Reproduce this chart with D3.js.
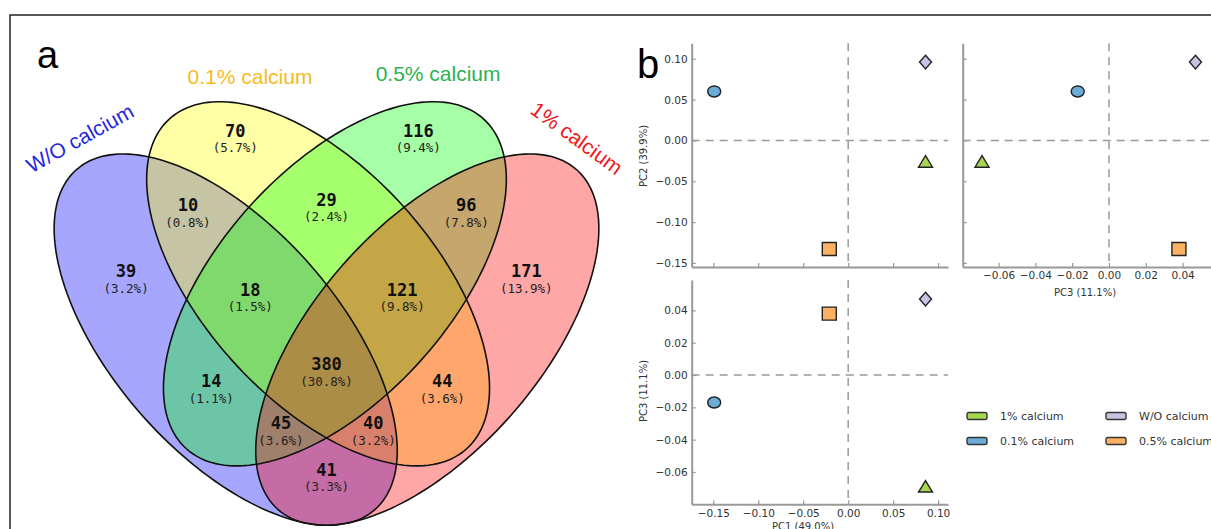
<!DOCTYPE html>
<html>
<head>
<meta charset="utf-8">
<script src="https://cdn.jsdelivr.net/npm/d3@7"></script>
<style>
  body { margin: 0; background: #fff; }
  svg { display: block; }
</style>
</head>
<body>
<svg id="fig" width="1211" height="529"></svg>
<script>
// panel a: venn of detected features
const setNames = ["W/O calcium", "0.1% calcium", "0.5% calcium", "1% calcium"];
const setFills = ["#0000ff", "#ffff00", "#00ff00", "#ff0000"];
const setLabelColors = ["#2626dc", "#f7bb22", "#2ab352", "#ef1820"];
const regionKeys = ["1000", "0100", "0010", "0001", "1100", "0110", "0011", "1110", "0111", "1111", "1010", "0101", "1011", "1101", "1001"];
const regionCounts = [39, 70, 116, 171, 10, 29, 96, 18, 121, 380, 14, 44, 45, 40, 41];

// panel b: PCA scores
const groups = ["1% calcium", "W/O calcium", "0.1% calcium", "0.5% calcium"];
const groupFills = ["#a7d650", "#cbc1e4", "#6badd8", "#fdb263"];
const groupShapes = ["triangle", "diamond", "circle", "square"];
const pc1 = [0.086, 0.086, -0.149, -0.021];
const pc2 = [-0.026, 0.096, 0.060, -0.133];
const pc3 = [-0.069, 0.047, -0.017, 0.038];
const pc1Ticks = [-0.15, -0.10, -0.05, 0.00, 0.05, 0.10];
const pc2Ticks = [-0.15, -0.10, -0.05, 0.00, 0.05, 0.10];
const pc3Ticks = [-0.06, -0.04, -0.02, 0.00, 0.02, 0.04];

const svg = d3.select("#fig");

// frame
svg.append("path")
    .attr("d", "M10,529V15H1211")
    .attr("fill", "none")
    .attr("stroke", "#222")
    .attr("stroke-width", 1.5);

// ---------- venn ----------
const xV = d3.scaleLinear().domain([0, 1]).range([26.5, 626.5]);
const yV = d3.scaleLinear().domain([0, 1]).range([600, 0]);

// ellipse layout in venn units (rotation in degrees, y up)
const ellipses = [
    {cx: 0.332, cy: 0.434, a: 0.377, b: 0.188, rot: 131.25},
    {cx: 0.486, cy: 0.527, a: 0.370, b: 0.192, rot: 132},
    {cx: 0.514, cy: 0.527, a: 0.370, b: 0.192, rot: 48},
    {cx: 0.668, cy: 0.434, a: 0.377, b: 0.188, rot: 48.75},
];
const anchors = {
    "1000": [0.166, 0.548], "0100": [0.348, 0.782], "0010": [0.653, 0.782], "0001": [0.833, 0.548],
    "1100": [0.269, 0.658], "0110": [0.500, 0.667], "0011": [0.733, 0.658],
    "1110": [0.373, 0.517], "0111": [0.626, 0.517], "1111": [0.500, 0.393],
    "1010": [0.308, 0.365], "0101": [0.693, 0.365],
    "1011": [0.424, 0.295], "1101": [0.578, 0.295], "1001": [0.500, 0.217],
};
const catPos = [
    {x: 0.089, y: 0.770, rot: -29},
    {x: 0.3725, y: 0.872, rot: 0},
    {x: 0.686, y: 0.878, rot: 0},
    {x: 0.9175, y: 0.770, rot: 36},
];

const ellipsePath = e => {
    const r = e.rot * Math.PI / 180;
    const pts = d3.range(0, 360, 2).map(deg => {
        const t = deg * Math.PI / 180;
        return [
            e.cx + e.a * Math.cos(t) * Math.cos(r) - e.b * Math.sin(t) * Math.sin(r),
            e.cy + e.a * Math.cos(t) * Math.sin(r) + e.b * Math.sin(t) * Math.cos(r)
        ];
    });
    return d3.line().x(p => xV(p[0])).y(p => yV(p[1])).curve(d3.curveLinearClosed)(pts);
};

const venn = svg.append("g");
venn.selectAll("path.fill")
    .data(ellipses)
    .join("path")
    .attr("class", "fill")
    .attr("d", ellipsePath)
    .attr("fill", (d, i) => setFills[i])
    .attr("fill-opacity", 0.35);
venn.selectAll("path.edge")
    .data(ellipses)
    .join("path")
    .attr("class", "edge")
    .attr("d", ellipsePath)
    .attr("fill", "none")
    .attr("stroke", "#111")
    .attr("stroke-width", 1.6);

const total = d3.sum(regionCounts);
const reg = venn.selectAll("g.region")
    .data(regionKeys.map((k, i) => ({key: k, n: regionCounts[i]})))
    .join("g")
    .attr("class", "region")
    .attr("transform", d => `translate(${xV(anchors[d.key][0])},${yV(anchors[d.key][1])})`)
    .attr("text-anchor", "middle")
    .style("font-family", "'DejaVu Sans Mono', monospace");
reg.append("text")
    .attr("dy", "0.36em")
    .style("font-size", "17px")
    .style("font-weight", "bold")
    .attr("fill", "#111")
    .text(d => d.n);
reg.append("text")
    .attr("y", 17)
    .attr("dy", "0.36em")
    .style("font-size", "12.5px")
    .attr("fill", "#222")
    .text(d => `(${(100 * d.n / total).toFixed(1)}%)`);

venn.selectAll("text.cat")
    .data(catPos)
    .join("text")
    .attr("class", "cat")
    .attr("transform", d => `translate(${xV(d.x)},${yV(d.y)}) rotate(${d.rot})`)
    .attr("text-anchor", "middle")
    .attr("dy", "0.36em")
    .style("font-family", "'Liberation Sans', Arial, sans-serif")
    .style("font-size", "21px")
    .attr("fill", (d, i) => setLabelColors[i])
    .text((d, i) => setNames[i]);

svg.append("text")
    .attr("x", 37).attr("y", 68)
    .style("font-family", "'Liberation Sans', Arial, sans-serif")
    .style("font-size", "38px")
    .text("a");

// ---------- pca ----------
const xPC1 = d3.scaleLinear().domain([-0.174, 0.111]).range([691.7, 948]);
const yPC2 = d3.scaleLinear().domain([-0.155, 0.119]).range([267, 43.3]);
const xPC3 = d3.scaleLinear().domain([-0.0795, 0.06]).range([962.7, 1219.4]);
const yPC3 = d3.scaleLinear().domain([-0.08, 0.0588]).range([504.3, 280]);

const fmt = d3.format(".2f");
const tickFont = "'DejaVu Sans', sans-serif";

function marker(shape) {
    if (shape === "circle") return "M-6.5,0A6.5,5.5 0 1,0 6.5,0A6.5,5.5 0 1,0 -6.5,0Z";
    if (shape === "diamond") return "M0,-6.8L6,0L0,6.8L-6,0Z";
    if (shape === "triangle") return "M0,-6L7,5.5L-7,5.5Z";
    return "M-7,-6.5H7V6.5H-7Z";
}

function scatter(x, y, xs, ys, xTicks, yTicks, xLabels, yLabels) {
    const g = svg.append("g");
    const [x0, x1] = x.range();
    const [y0, y1] = y.range();

    g.append("line")
        .attr("x1", x(0)).attr("x2", x(0)).attr("y1", y1).attr("y2", y0)
        .attr("stroke", "#999").attr("stroke-width", 1.5).attr("stroke-dasharray", "8,6");
    g.append("line")
        .attr("x1", x0).attr("x2", x1).attr("y1", y(0)).attr("y2", y(0))
        .attr("stroke", "#999").attr("stroke-width", 1.5).attr("stroke-dasharray", "8,6");

    const ax = g.append("g")
        .attr("transform", `translate(0,${y0})`)
        .call(d3.axisBottom(x).tickValues(xTicks).tickSize(-4).tickSizeOuter(0).tickPadding(5)
            .tickFormat(xLabels ? fmt : ""));
    const ay = g.append("g")
        .attr("transform", `translate(${x0},0)`)
        .call(d3.axisLeft(y).tickValues(yTicks).tickSize(-4).tickSizeOuter(0).tickPadding(4)
            .tickFormat(yLabels ? fmt : ""));
    [ax, ay].forEach(a => {
        a.select(".domain").attr("stroke", "#999").attr("stroke-width", 2);
        a.selectAll(".tick line").attr("stroke", "#999").attr("stroke-width", 1.2);
        a.selectAll(".tick text").attr("fill", "#333")
            .style("font-family", tickFont).style("font-size", "10.5px");
    });

    g.selectAll("path.pt")
        .data(groups.map((name, i) => ({i, vx: xs[i], vy: ys[i]})))
        .join("path")
        .attr("class", "pt")
        .attr("transform", d => `translate(${x(d.vx)},${y(d.vy)})`)
        .attr("d", d => marker(groupShapes[d.i]))
        .attr("fill", d => groupFills[d.i])
        .attr("stroke", "#222")
        .attr("stroke-width", 1.4);
    return g;
}

scatter(xPC1, yPC2, pc1, pc2, pc1Ticks, pc2Ticks, false, true);
scatter(xPC3, yPC2, pc3, pc2, pc3Ticks, pc2Ticks, true, false);
scatter(xPC1, yPC3, pc1, pc3, pc1Ticks, pc3Ticks, true, true);

const axisLabel = (x, y, rot, txt) => svg.append("text")
    .attr("transform", `translate(${x},${y}) rotate(${rot})`)
    .attr("text-anchor", "middle")
    .attr("dy", "0.35em")
    .style("font-family", tickFont).style("font-size", "10px")
    .attr("fill", "#333")
    .text(txt);
axisLabel(643, 156, -90, "PC2 (39.9%)");
axisLabel(643, 391, -90, "PC3 (11.1%)");
axisLabel(1085, 292, 0, "PC3 (11.1%)");
axisLabel(803, 526, 0, "PC1 (49.0%)");

// legend
const leg = svg.append("g")
    .selectAll("g")
    .data(groups)
    .join("g")
    .attr("transform", (d, i) => `translate(${967 + (i % 2) * 139},${416 + Math.floor(i / 2) * 25})`);
leg.append("rect")
    .attr("x", 0).attr("y", -3.5).attr("width", 20).attr("height", 7).attr("rx", 2)
    .attr("fill", (d, i) => groupFills[i])
    .attr("stroke", "#333").attr("stroke-width", 1.4);
leg.append("text")
    .attr("x", 33).attr("dy", "0.35em")
    .style("font-family", tickFont).style("font-size", "11px")
    .attr("fill", "#333")
    .text(d => d);

svg.append("text")
    .attr("x", 637).attr("y", 78)
    .style("font-family", "'Liberation Sans', Arial, sans-serif")
    .style("font-size", "40px")
    .text("b");
</script>
</body>
</html>
